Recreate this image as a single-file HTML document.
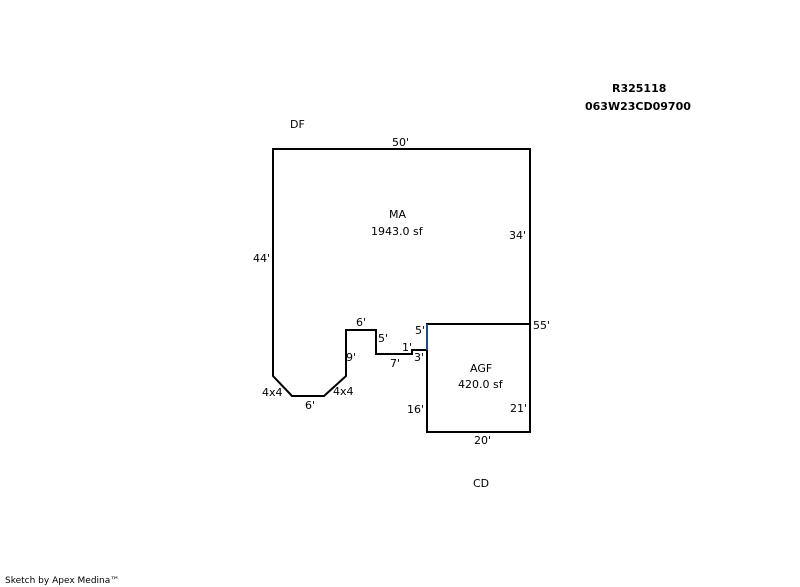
<!DOCTYPE html>
<html><head><style>
html,body{margin:0;padding:0;background:#fff;width:800px;height:587px;overflow:hidden}
svg text{font-family:"DejaVu Sans","Liberation Sans",sans-serif;font-size:11px;fill:#000}
</style></head><body>
<svg width="800" height="587" xmlns="http://www.w3.org/2000/svg">
<g fill="none" stroke="#000" stroke-width="2">
<polyline points="427,350 412,350 412,354 376,354 376,330 346,330 346,376 324,396 292,396 273,376 273,149 530,149 530,324"/>
<rect x="427" y="324" width="103" height="108"/>
</g>
<line x1="427" y1="324" x2="427" y2="350" stroke="#1a4a8a" stroke-width="2"/>
<text x="290" y="128">DF</text>
<text x="392" y="146">50'</text>
<text x="389" y="218">MA</text>
<text x="371" y="235">1943.0 sf</text>
<text x="509" y="239">34'</text>
<text x="253" y="262">44'</text>
<text x="533" y="329">55'</text>
<text x="356" y="326">6'</text>
<text x="415" y="334">5'</text>
<text x="378" y="342">5'</text>
<text x="402" y="351">1'</text>
<text x="346" y="361">9'</text>
<text x="414" y="361">3'</text>
<text x="390" y="367">7'</text>
<text x="470" y="372">AGF</text>
<text x="458" y="388">420.0 sf</text>
<text x="262" y="396">4x4</text>
<text x="333" y="395">4x4</text>
<text x="305" y="409">6'</text>
<text x="407" y="413">16'</text>
<text x="510" y="412">21'</text>
<text x="474" y="444">20'</text>
<text x="473" y="487">CD</text>
<text x="612" y="92" font-weight="bold">R325118</text>
<text x="585" y="110" font-weight="bold">063W23CD09700</text>
<text x="5" y="583" style="font-size:9px">Sketch by Apex Medina™</text>
</svg>
</body></html>
